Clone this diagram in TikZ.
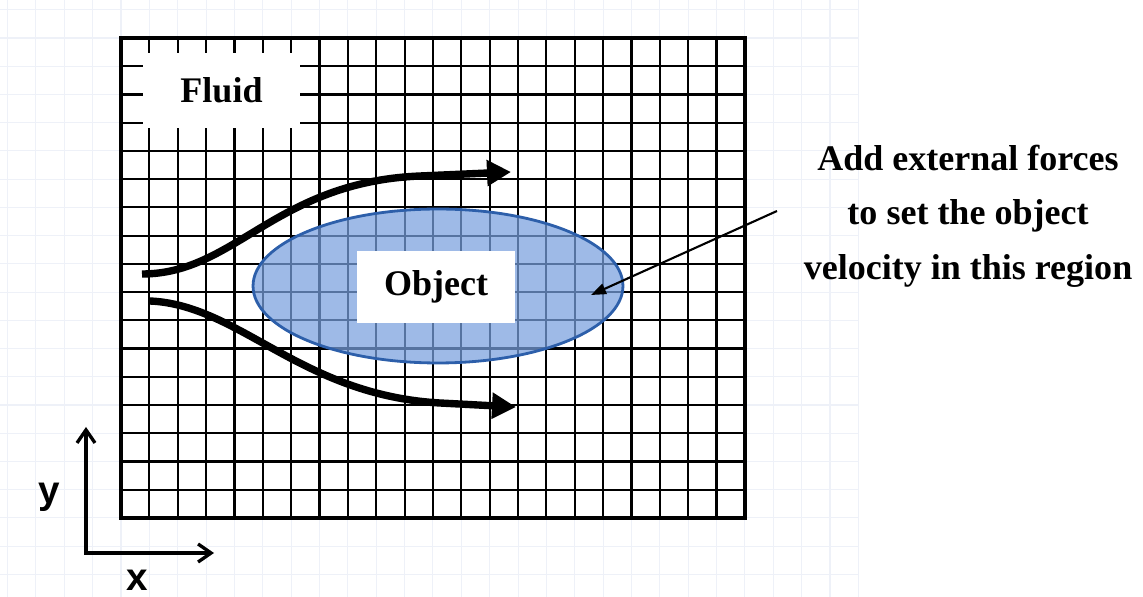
\documentclass[tikz,border=0pt]{standalone}
\usepackage{fontspec}
\setmainfont{Liberation Serif}
\setsansfont{Liberation Sans}
\usetikzlibrary{arrows.meta}
\definecolor{objfill}{RGB}{120,160,222}
\definecolor{objedge}{RGB}{45,95,170}
\definecolor{ghost}{RGB}{238,241,248}

\tikzset{
  boldtext/.style={font=\fontsize{20.5}{31}\selectfont\bfseries},
  axislabel/.style={font=\sffamily\bfseries\fontsize{22}{22}\selectfont},
  whitebox/.style={fill=white,inner sep=0pt},
  flowline/.style={line width=4.2pt,-{Triangle[length=0.48cm,width=0.5cm]}},
  axisline/.style={line width=1.9pt,line join=miter},
  pointer/.style={line width=1.2pt,-{Triangle[length=0.3cm,width=0.22cm]}}
}

\begin{document}
\begin{tikzpicture}[x=0.02cm,y=-0.02cm]
  \useasboundingbox (0,0) rectangle (1143,597);
  % mesh (22 x 17 cells)
  \begin{scope}[shift={(121,38)},x=0.5673cm,y=-0.5647cm]
    \foreach \i in {-4,...,26} \draw[ghost,line width=0.6pt] (\i,-1.4) -- (\i,19.8);
    \foreach \j in {-1,...,19} \draw[ghost,line width=0.6pt] (-4.3,\j) -- (26,\j);
    \foreach \i in {1,...,21} \draw[line width=1.25pt] (\i,0) -- (\i,17);
    \foreach \j in {1,...,16} \draw[line width=1.25pt] (0,\j) -- (22,\j);
    \draw[line width=2pt] (0,0) rectangle (22,17);
  \end{scope}
  \node[whitebox,boldtext,minimum width=3.14cm,minimum height=1.5cm] (fluid) at (221.5,90.5) {Fluid};
  % object
  \draw[objedge,line width=1.6pt,fill=objfill,fill opacity=0.72] (438,286) ellipse [x radius=3.7cm,y radius=1.54cm];
  \node[whitebox,boldtext,minimum width=3.16cm,minimum height=1.46cm] (obj) at (436,287) {Object};
  % stream lines
  \coordinate (in1) at (142,274);
  \coordinate (out1) at (511,172);
  \coordinate (in2) at (150,301);
  \coordinate (out2) at (516,407);
  \draw[flowline] (in1) .. controls (235,274) and (275,182) .. (420,176) -- (out1);
  \draw[flowline] (in2) .. controls (240,305) and (300,395) .. (440,403) -- (out2);
  % note
  \node[boldtext,align=center] (note) at (968,216) {Add external forces\\to set the object\\velocity in this region};
  \coordinate (tail) at (777,211);
  \coordinate (force) at (591,295);
  \draw[pointer] (tail) -- (force);
  % axes
  \coordinate (origin) at (86,553);
  \coordinate (yend) at (86,427);
  \coordinate (xend) at (214,553);
  \draw[axisline,{Straight Barb[length=0.26cm,width=0.36cm]}-{Straight Barb[length=0.26cm,width=0.36cm]}] (yend) -- (origin) -- (xend);
  \node[axislabel] (ylab) at (49,497) {y};
  \node[axislabel] (xlab) at (137,580) {x};
\end{tikzpicture}
\end{document}
